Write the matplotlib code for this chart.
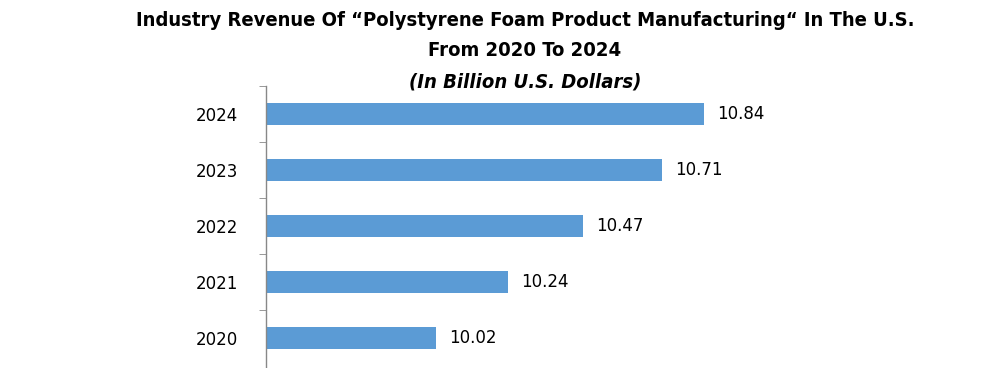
import numpy as np
import matplotlib.pyplot as plt
from matplotlib.ticker import FixedLocator

# datos
years = ['2020', '2021', '2022', '2023', '2024']
revenue = [10.02, 10.24, 10.47, 10.71, 10.84]

bar_color = '#5B9BD5'

fig = plt.figure(figsize=(10.07, 3.68), dpi=100)
ax = fig.add_axes([266/1007, 0/368, 654/1007, 282/368])

y = np.arange(len(years))
ax.barh(y, revenue, height=0.385, color=bar_color, left=0)
ax.set_xlim(9.5, 11.5)
ax.set_ylim(-0.54, len(years) - 0.5)

# etiquetas de valores
for yi, v in zip(y, revenue):
    ax.text(v + 0.04, yi, f'{v:.2f}', va='center', ha='left', fontsize=12, color='black')

# ejes
for s in ['top', 'right', 'bottom']:
    ax.spines[s].set_visible(False)
ax.spines['left'].set_color('#888888')
ax.spines['left'].set_linewidth(1.0)
ax.set_xticks([])
ax.set_yticks(y)
ax.set_yticklabels(years, fontsize=12)
ax.tick_params(axis='y', which='major', length=0, pad=20)
ax.yaxis.set_minor_locator(FixedLocator(np.arange(0.5, len(years), 1.0)))
ax.tick_params(axis='y', which='minor', length=5, color='#888888', direction='out')

# titulo
tkw = dict(ha='center', va='center', fontsize=14.5, fontweight='bold',
           family='DejaVu Sans', fontstretch='condensed')
fig.text(525/1007, 1 - 21/368,
         'Industry Revenue Of \u201cPolystyrene Foam Product Manufacturing\u201c In The U.S.', **tkw)
fig.text(525/1007, 1 - 50/368, 'From 2020 To 2024', **tkw)
fig.text(525/1007, 1 - 82/368, '(In Billion U.S. Dollars)', style='italic', **tkw)

fig.savefig('out.png', dpi=100)
